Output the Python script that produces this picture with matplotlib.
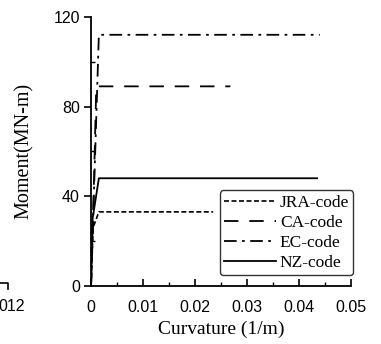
import numpy as np
import matplotlib.pyplot as plt
from matplotlib.lines import Line2D
from matplotlib.ticker import MultipleLocator

# Curvatura (1/m) x Momento (MN-m) para cada norma
jra_x = [0, 0.0004, 0.0015, 0.0235]
jra_y = [0, 26, 33, 33]
ca_x = [0, 0.0006, 0.0010, 0.0268]
ca_y = [0, 50, 89, 89]
ec_x = [0, 0.0008, 0.0015, 0.0440]
ec_y = [0, 60, 112, 112]
nz_x = [0, 0.0003, 0.0015, 0.0435]
nz_y = [0, 30, 48, 48]

labels = ['JRA-code', 'CA-code', 'EC-code', 'NZ-code']
x_ticks = [0, 0.01, 0.02, 0.03, 0.04, 0.05]
y_ticks = [0, 40, 80, 120]

serif = 'Liberation Serif'
sans = 'Liberation Sans'

fig = plt.figure(figsize=(3.81, 3.44), dpi=100)
ax = fig.add_axes([0.239, 0.169, 0.682, 0.782])

ax.plot(jra_x, jra_y, color='black', lw=1.2, dashes=(3, 1.5), label=labels[0])
ax.plot(ca_x, ca_y, color='black', lw=1.3, dashes=(8, 6), label=labels[1])
ax.plot(ec_x, ec_y, color='black', lw=1.3, dashes=(7, 3, 1.5, 3), label=labels[2])
ax.plot(nz_x, nz_y, color='black', lw=1.3, label=labels[3])

ax.set_xlim(0, 0.05)
ax.set_ylim(0, 120)
ax.set_xticks(x_ticks)
ax.set_xticklabels(['0', '0.01', '0.02', '0.03', '0.04', '0.05'])
ax.set_yticks(y_ticks)
ax.xaxis.set_minor_locator(MultipleLocator(0.005))
ax.yaxis.set_minor_locator(MultipleLocator(20))

for s in ['top', 'right']:
    ax.spines[s].set_visible(False)
for s in ['left', 'bottom']:
    ax.spines[s].set_linewidth(1.3)

ax.tick_params(axis='x', which='major', direction='in', length=5, width=1.2, pad=10)
ax.tick_params(axis='x', which='minor', direction='in', length=3, width=1.0)
ax.tick_params(axis='y', which='major', direction='out', length=5, width=1.2, pad=3)
ax.tick_params(axis='y', which='minor', direction='in', length=3, width=1.0)
for t in ax.get_xticklabels() + ax.get_yticklabels():
    t.set_fontfamily(sans)
    t.set_fontsize(11.5)

ax.set_xlabel('Curvature (1/m)', fontfamily=serif, fontsize=14, labelpad=4)
ax.set_ylabel('Moment(MN-m)', fontfamily=serif, fontsize=14.5, labelpad=14)

leg = ax.legend(loc='lower right', bbox_to_anchor=(1.01, 0.04),
                prop={'family': serif, 'size': 12.5}, frameon=True,
                fancybox=True, handlelength=3.0, handletextpad=0.2,
                labelspacing=0.22, borderpad=0.25, borderaxespad=0.0)
leg.get_frame().set_edgecolor('black')
leg.get_frame().set_linewidth(1.0)

# resto do grafico vizinho recortado na imagem
fig.text(-0.005, 0.095, '012', fontfamily=sans, fontsize=11.5, ha='left')
fig.add_artist(Line2D([0.0, 0.02, 0.02], [0.177, 0.177, 0.160],
                      transform=fig.transFigure, color='black', lw=1.2))

fig.savefig('out.png', dpi=100)
